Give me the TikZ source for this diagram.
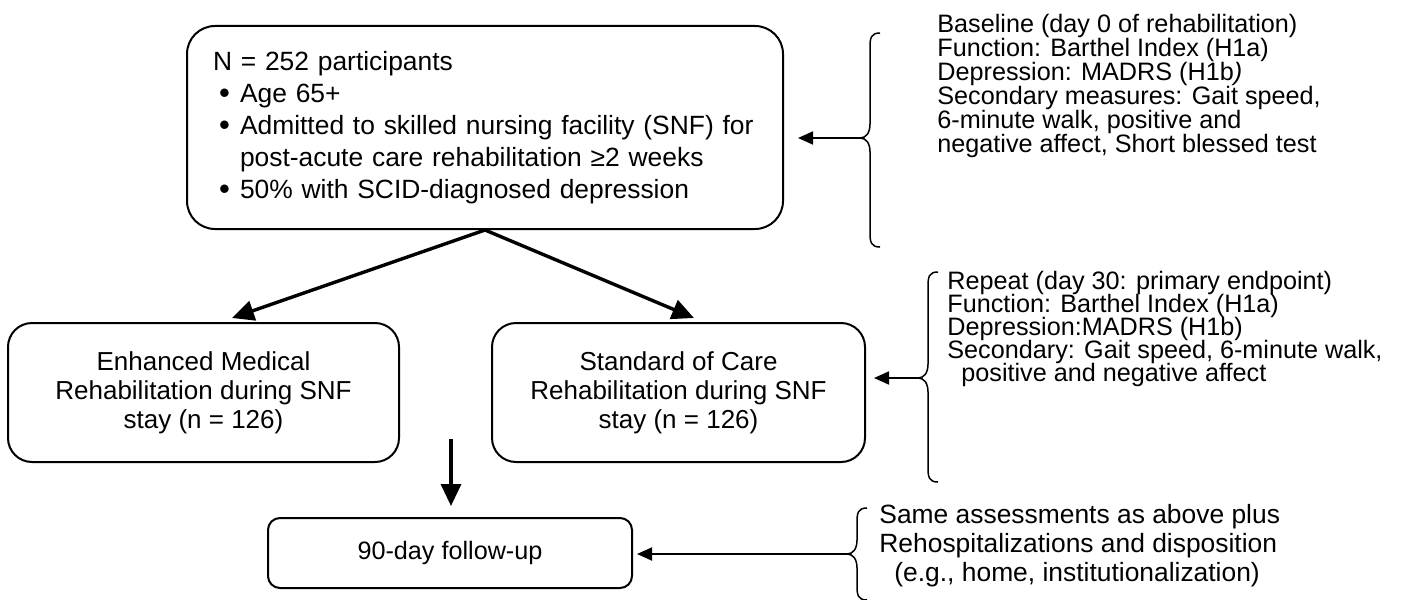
\documentclass[tikz,border=0pt]{standalone}
\usepackage{fontspec}
\setmainfont{Liberation Sans}
\usetikzlibrary{positioning, arrows, arrows.meta}
\newcommand{\blt}{\makebox[13.5pt][l]{\hspace{3pt}\raisebox{-0.8pt}[0pt][0pt]{\fontsize{15.5pt}{0pt}\selectfont•}}}

\begin{document}
\begin{tikzpicture}[x=0.5pt,y=-0.5pt,
  font=\fontsize{13pt}{16pt}\selectfont,
  box/.style={draw,line width=1pt,inner sep=0pt},
  con/.style={line width=0.9pt,-{Triangle[length=7.5pt,width=6.5pt]}},
  thk/.style={line width=1.7pt,-{Triangle[length=11pt,width=10pt]}},
  brc/.style={line width=0.75pt},
  note/.style={anchor=north west,align=left,inner sep=0pt}]
\useasboundingbox (0,0) rectangle (1416,599);

% boxes
\node[box,rounded corners=14pt,minimum width=298pt,minimum height=101.5pt,
  text width=272pt,align=left,font=\fontsize{13.2pt}{16pt}\selectfont] (top) at (485,127.5)
  {N = 252 participants\\
   \blt Age 65+\\
   \blt Admitted to skilled nursing facility (SNF) for\\
   \hspace*{13.5pt}post-acute care rehabilitation ≥2 weeks\\
   \blt 50\% with SCID-diagnosed depression};
\node[box,rounded corners=12pt,minimum width=195.5pt,minimum height=69.5pt,
  align=center,font=\fontsize{13pt}{14.5pt}\selectfont] (emr) at (203.5,392.5)
  {Enhanced Medical\\Rehabilitation during SNF\\stay (n = 126)};
\node[box,rounded corners=12pt,minimum width=186.5pt,minimum height=69.5pt,
  align=center,font=\fontsize{13pt}{14.5pt}\selectfont] (soc) at (678.5,392.5)
  {Standard of Care\\Rehabilitation during SNF\\stay (n = 126)};
\node[box,rounded corners=6pt,minimum width=182pt,minimum height=35pt,
  font=\fontsize{12.6pt}{14pt}\selectfont] (fu) at (450,553)
  {90-day follow-up};

% assessment notes
\node[note,font={\fontsize{12.6pt}{12pt}\selectfont\lineskiplimit=-10pt}] (base) at (937,14)
  {Baseline (day 0 of rehabilitation)\\
   Function: Barthel Index (H1a)\\
   Depression: MADRS (H1b\textit{)}\\
   Secondary measures: Gait speed,\\
   6-minute walk, positive and\\
   negative affect, Short blessed test};
\node[note,font={\fontsize{12.6pt}{11.5pt}\selectfont\lineskiplimit=-10pt}] (rep) at (947,271)
  {Repeat (day 30: primary endpoint)\\
   Function: Barthel Index (H1a)\\
   Depression:MADRS (H1b)\\
   Secondary: Gait speed, 6-minute walk,\\
   \hspace*{7pt}positive and negative affect};
\node[note,font={\fontsize{13.2pt}{14.5pt}\selectfont\lineskiplimit=-10pt}] (same) at (879,504)
  {Same assessments as above plus\\
   Rehospitalizations and disposition\\
   \hspace*{7.5pt}(e.g., home, institutionalization)};

% braces
\foreach \cx/\ty/\cy/\by/\nm in {860/33/138/247/c1, 918/272/378/482/c2, 847/508/554/600/c3}{
  \coordinate (\nm) at (\cx,\cy);
  \draw[brc] ({\cx+20},\ty) .. controls ({\cx+11},\ty) and ({\cx+10},{\ty+5}) .. ({\cx+10},{\ty+14})
    -- ({\cx+10},{\cy-14}) .. controls ({\cx+10},{\cy-5}) and ({\cx+6},\cy) .. (\nm)
    .. controls ({\cx+6},\cy) and ({\cx+10},{\cy+5}) .. ({\cx+10},{\cy+14})
    -- ({\cx+10},{\by-14}) .. controls ({\cx+10},{\by-5}) and ({\cx+11},\by) .. ({\cx+20},\by);
}

% arrows
\coordinate (tipL) at (232,318);
\coordinate (tipR) at (694,318);
\coordinate (dn) at (451,439);
\draw[thk] (top.south) -- (tipL);
\draw[thk] (top.south) -- (tipR);
\draw[thk,shorten >=5.5pt] (dn) -- (dn |- fu.north);
\draw[con,shorten >=7pt] (c1) -- (c1 -| top.east);
\draw[con,shorten >=4pt] (c2) -- (c2 -| soc.east);
\draw[con,shorten >=2pt] (c3) -- (c3 -| fu.east);
\end{tikzpicture}
\end{document}
